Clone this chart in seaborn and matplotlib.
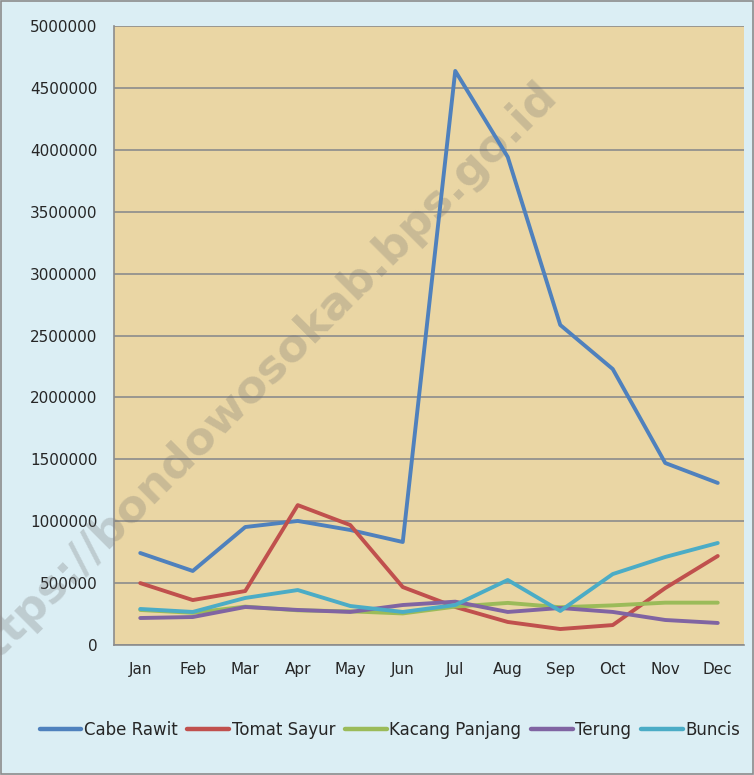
import numpy as np
import pandas as pd
import matplotlib
matplotlib.use("Agg")
import matplotlib.pyplot as plt
from matplotlib.font_manager import FontProperties
from matplotlib.textpath import TextPath
import seaborn as sns

months = ["Jan", "Feb", "Mar", "Apr", "May", "Jun", "Jul", "Aug", "Sep", "Oct", "Nov", "Dec"]
cabe_rawit = [743000, 598000, 953000, 1002000, 929000, 832000, 4637000, 3942000, 2585000, 2229000, 1470000, 1309000]
tomat_sayur = [500000, 363000, 436000, 1130000, 969000, 468000, 307000, 186000, 129000, 161000, 460000, 719000]
kacang_panjang = [283000, 260000, 310000, 280000, 272000, 255000, 310000, 340000, 305000, 320000, 342000, 342000]
terung = [218000, 226000, 307000, 283000, 267000, 323000, 350000, 267000, 299000, 267000, 202000, 178000]
buncis = [291000, 267000, 380000, 444000, 315000, 267000, 323000, 525000, 275000, 573000, 711000, 824000]

series_names = ["Cabe Rawit", "Tomat Sayur", "Kacang Panjang", "Terung", "Buncis"]
series_values = [cabe_rawit, tomat_sayur, kacang_panjang, terung, buncis]
colors = ["#4F81BD", "#C0504D", "#9BBB59", "#8064A2", "#4BACC6"]
yticks = [0, 500000, 1000000, 1500000, 2000000, 2500000, 3000000, 3500000, 4000000, 4500000, 5000000]
watermark = "https://bondowosokab.bps.go.id"

rows = []
for name, vals in zip(series_names, series_values):
    for i, (m, v) in enumerate(zip(months, vals)):
        rows.append({"idx": i, "Month": m, "Series": name, "Value": v})
df = pd.DataFrame(rows)

sns.set_style("white")
plt.rcParams["font.family"] = ["DejaVu Sans"]

W, H = 754, 775
fig = plt.figure(figsize=(W / 100, H / 100), dpi=100, facecolor="#DBEEF4")
fig.patches.append(plt.Rectangle((0.001, 0.001), 0.998, 0.998, transform=fig.transFigure,
                                 fill=False, edgecolor="#8c8c8c", linewidth=1.2))
ax = fig.add_axes([114 / W, 1 - 645 / H, 630 / W, 619 / H])
ax.set_facecolor("#EAD6A4")

sns.lineplot(data=df, x="idx", y="Value", hue="Series", hue_order=series_names,
             palette=colors, linewidth=2.8, ax=ax, legend=True, sort=False)

ax.set_xlim(-0.5, 11.5)
ax.set_ylim(0, 5000000)
ax.set_yticks(yticks)
ax.set_yticklabels([str(t) for t in yticks], fontsize=11)
ax.set_xticks(range(12))
ax.set_xticklabels(months, fontsize=11)
ax.set_xticks(np.arange(-0.5, 12, 1), minor=True)
ax.tick_params(axis="x", which="major", length=0, pad=12)
ax.tick_params(axis="x", which="minor", length=6, color="#8c8c8c", width=1.2)
ax.tick_params(axis="y", which="major", length=6, color="#8c8c8c", width=1.2, pad=6)
ax.grid(axis="y", color="#8c8c8c", linewidth=1.2)
ax.set_axisbelow(True)
for s in ["top", "right"]:
    ax.spines[s].set_visible(False)
for s in ["left", "bottom"]:
    ax.spines[s].set_color("#8c8c8c")
    ax.spines[s].set_linewidth(1.2)
ax.set_xlabel("")
ax.set_ylabel("")

handles, labels = ax.get_legend_handles_labels()
ax.legend_.remove()
for h in handles:
    h.set_linewidth(3.2)
fig.legend(handles, labels, loc="center", bbox_to_anchor=(390 / W, 1 - 730 / H), ncol=5,
           frameon=False, handlelength=2.5, handletextpad=0.15, columnspacing=0.6,
           prop={"family": ["DejaVu Sans"], "size": 12})

# watermark: size it so that "tps://...id" spans ~768 px along its diagonal
fp = FontProperties(family="DejaVu Sans", weight="bold")
w10 = TextPath((0, 0), watermark[2:], size=10, prop=fp).get_extents().width * 100 / 72
fsize = 10 * 768 / w10
ax.text(550 / W, 1 - 88 / H, watermark, transform=fig.transFigure, rotation=45,
        rotation_mode="anchor", ha="right", va="center", fontsize=fsize,
        fontproperties=fp, color="#6a6a6a", alpha=0.26, clip_on=False, zorder=1.5)

fig.savefig("out.png", dpi=100, facecolor=fig.get_facecolor())
